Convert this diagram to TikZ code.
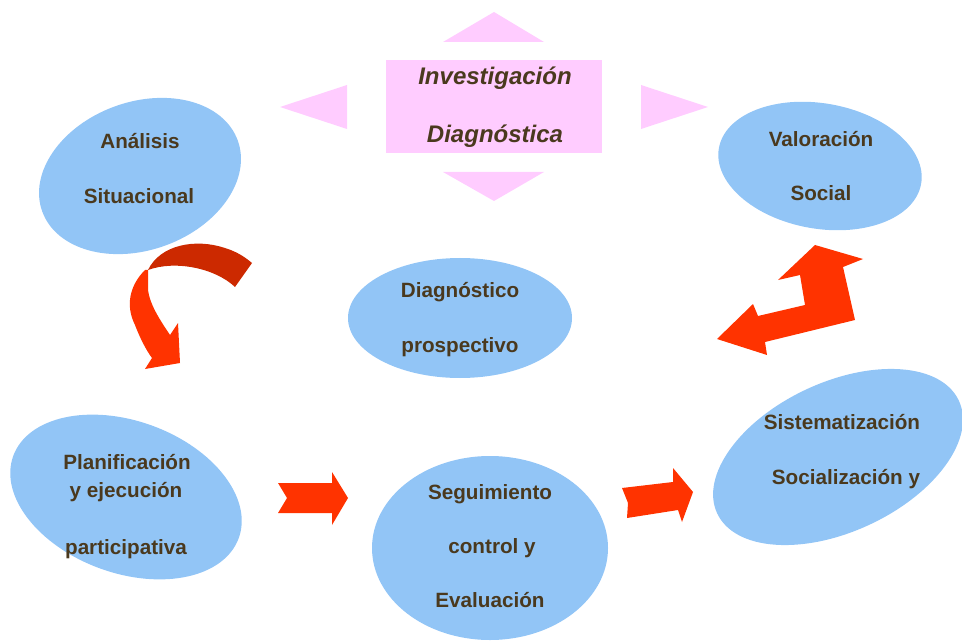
\documentclass[tikz,border=0pt]{standalone}
\usepackage{fontspec}
\setmainfont{Liberation Sans}
\usetikzlibrary{shapes.geometric}
\definecolor{bubbleblue}{RGB}{146,197,246}
\definecolor{rosebox}{RGB}{255,204,255}
\definecolor{textbrown}{RGB}{74,57,30}
\definecolor{arrowred}{RGB}{255,51,0}
\definecolor{darkarrow}{RGB}{204,41,0}
\tikzset{
  bubble/.style={ellipse, fill=bubbleblue, inner sep=0pt},
  lbl/.style={anchor=base, text=textbrown, font=\bfseries\fontsize{15.5}{18}\selectfont},
  title/.style={anchor=base, text=textbrown, font=\bfseries\itshape\fontsize{18}{21}\selectfont}
}
\begin{document}
\begin{tikzpicture}[x=0.75pt,y=-0.75pt]
      \useasboundingbox (0,0) rectangle (962,641);
      % Pink box with the four triangles
      \fill[rosebox] (386,60) rectangle (602,153);
      \fill[rosebox] (443,42) -- (494,12) -- (544,42) -- cycle;
      \fill[rosebox] (443,172) -- (544,172) -- (494,201) -- cycle;
      \fill[rosebox] (347,85) -- (280,107) -- (347,129) -- cycle;
      \fill[rosebox] (641,85) -- (708,107) -- (641,129) -- cycle;
      \node[title] (inv) at (495,85) {Investigación};
      \node[title] (diag) at (495,143) {Diagnóstica};
      % Ellipses
      \node[bubble, minimum width=156pt, minimum height=111pt, rotate=20] (analisis) at (140,176) {};
      \node[bubble, minimum width=154pt, minimum height=94pt, rotate=-10] (valoracion) at (820,166) {};
      \node[bubble, minimum width=168pt, minimum height=90pt] (prospectivo) at (460,318) {};
      \node[bubble, minimum width=180pt, minimum height=114pt, rotate=-20] (planificacion) at (126,497) {};
      \node[bubble, minimum width=177pt, minimum height=138pt] (seguimiento) at (490,548) {};
      \node[bubble, minimum width=200pt, minimum height=112pt, rotate=25] (sistematizacion) at (838,457) {};
      % Labels
      \node[lbl] (an1) at (140,149) {Análisis};
      \node[lbl] (an2) at (139,204) {Situacional};
      \node[lbl] (va1) at (821,147) {Valoración};
      \node[lbl] (va2) at (821,201) {Social};
      \node[lbl] (pr1) at (460,297) {Diagnóstico};
      \node[lbl] (pr2) at (460,352) {prospectivo};
      \node[lbl] (pl1) at (127,469) {Planificación};
      \node[lbl] (pl2) at (126,497) {y ejecución};
      \node[lbl] (pl3) at (126,554) {participativa};
      \node[lbl] (se1) at (490,499) {Seguimiento};
      \node[lbl] (se2) at (492,553) {control y};
      \node[lbl] (se3) at (490,607) {Evaluación};
      \node[lbl] (si1) at (842,429) {Sistematización};
      \node[lbl] (si2) at (846,484) {Socialización y};
      % Curved arrow
      \fill[darkarrow] (148,270) .. controls (160,245) and (195,238) .. (225,248)
        .. controls (238,252) and (246,258) .. (252,263) -- (235,287)
        .. controls (215,268) and (175,260) .. (148,270) -- cycle;
      \fill[arrowred] (145,270) .. controls (130,285) and (125,305) .. (135,325)
        .. controls (140,338) and (146,350) .. (152,358) -- (145,369) -- (180,363)
        -- (178,323) -- (170,335) .. controls (160,320) and (150,305) .. (148,290)
        -- (148,270) -- cycle;
      % Double arrow
      \fill[arrowred] (815,245) -- (863,259) -- (843,267) -- (855,320) -- (765,342)
        -- (767,355) -- (717,339) -- (753,304) -- (758,316) -- (805,305)
        -- (800,275) -- (778,280) -- cycle;
      % Straight arrows
      \fill[arrowred] (278,483) -- (332,483) -- (332,472) -- (348,498) -- (332,525)
        -- (332,513) -- (278,513) -- (287,498) -- cycle;
      \fill[arrowred] (622,488) -- (673,482) -- (673,468) -- (693,492) -- (682,522)
        -- (678,510) -- (627,518) -- (628,503) -- cycle;
\end{tikzpicture}
\end{document}
